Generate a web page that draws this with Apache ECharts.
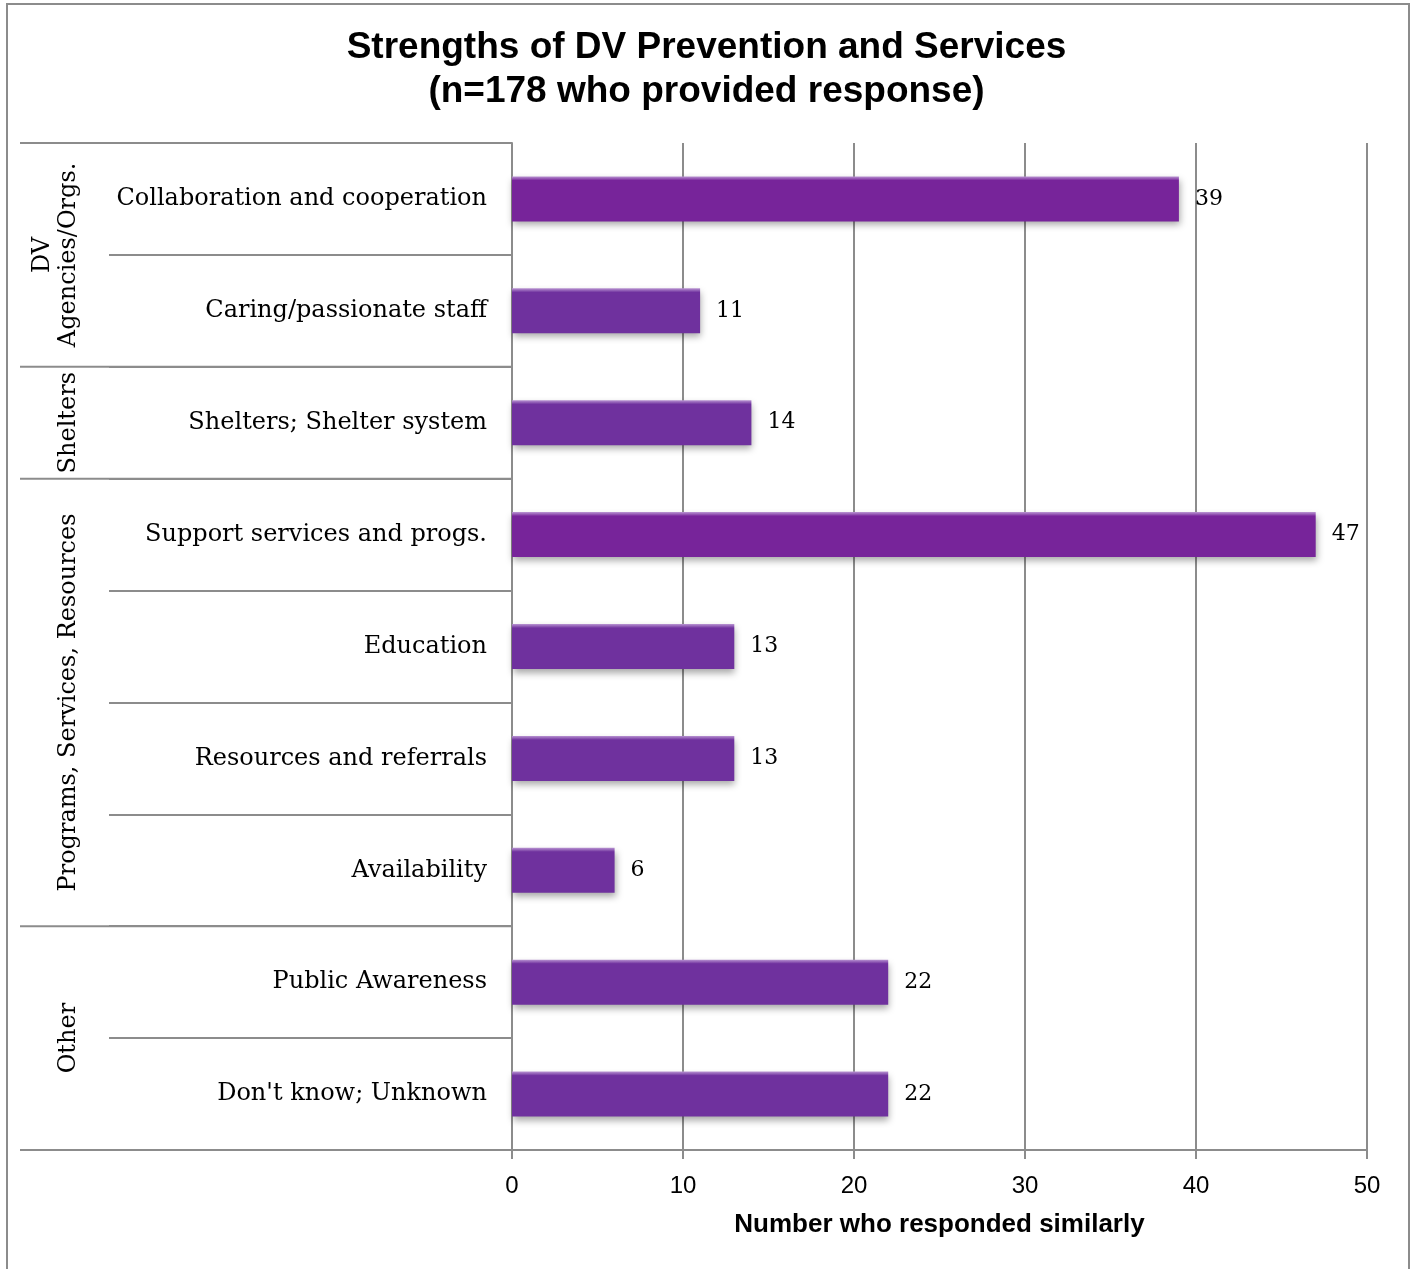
<!DOCTYPE html>
<html lang="en">
<head>
<meta charset="UTF-8">
<title>Strengths of DV Prevention and Services</title>
<script src="https://cdn.jsdelivr.net/npm/echarts@6/dist/echarts.min.js"></script>
<style>
    html, body { margin: 0; padding: 0; background: #fff; }
    #chart { width: 1413px; height: 1269px; }
</style>
</head>
<body>
<div id="chart"></div>
<script>
// data
var categories = [
    'Collaboration and cooperation',
    'Caring/passionate staff',
    'Shelters; Shelter system',
    'Support services and progs.',
    'Education',
    'Resources and referrals',
    'Availability',
    'Public Awareness',
    "Don't know; Unknown"
];
var counts = [39, 11, 14, 47, 13, 13, 6, 22, 22];
var groupNames = ['DV\nAgencies/Orgs.', 'Shelters', 'Programs, Services, Resources', 'Other'];
var groupSizes = [2, 1, 4, 2];
var xMin = 0, xMax = 50, xStep = 10;

var lineGray = '#8c8c8c';
var serif = "'DejaVu Serif', 'Liberation Serif', serif";
var sans = "'Liberation Sans', Arial, sans-serif";

function barFill(v) {
    var base = v >= 30 ? '#77249a' : '#6f319e';
    return new echarts.graphic.LinearGradient(0, 0, 0, 1, [
        {offset: 0, color: '#b994d2'},
        {offset: 0.09, color: base},
        {offset: 1, color: base}
    ]);
}

var myChart = echarts.init(document.getElementById('chart'));

var option = {
    backgroundColor: '#fff',
    animation: false,
    title: {
        text: 'Strengths of DV Prevention and Services\n(n=178 who provided response)',
        left: 'center',
        top: 21,
        textStyle: {
            fontFamily: sans,
            fontSize: 37,
            fontWeight: 'bold',
            color: '#000',
            lineHeight: 44
        }
    },
    grid: {
        left: 512,
        right: 46,
        top: 143,
        bottom: 119,
        containLabel: false
    },
    xAxis: {
        type: 'value',
        min: xMin,
        max: xMax,
        interval: xStep,
        name: 'Number who responded similarly',
        nameLocation: 'middle',
        nameGap: 62,
        nameTextStyle: {
            fontFamily: sans,
            fontSize: 26,
            fontWeight: 'bold',
            color: '#000'
        },
        axisLine: {show: true, lineStyle: {color: lineGray, width: 2}},
        axisTick: {show: true, length: 9, lineStyle: {color: lineGray, width: 2}},
        axisLabel: {
            margin: 24,
            fontFamily: sans,
            fontSize: 24,
            color: '#000'
        },
        splitLine: {show: true, lineStyle: {color: lineGray, width: 2}}
    },
    yAxis: {
        type: 'category',
        data: categories,
        inverse: true,
        axisLine: {show: true, lineStyle: {color: lineGray, width: 2}},
        axisTick: {show: true, length: 403, lineStyle: {color: lineGray, width: 2}},
        axisLabel: {
            margin: 25,
            fontFamily: serif,
            fontSize: 24,
            color: '#000'
        },
        splitLine: {show: false}
    },
    series: [{
        type: 'bar',
        barWidth: 45,
        data: counts.map(function (v) {
            return {
                value: v,
                itemStyle: {
                    color: barFill(v),
                    shadowColor: 'rgba(0,0,0,0.35)',
                    shadowBlur: 7,
                    shadowOffsetY: 4,
                    shadowOffsetX: 1
                }
            };
        }),
        label: {
            show: true,
            position: 'right',
            distance: 16,
            fontFamily: serif,
            fontSize: 22,
            color: '#000'
        }
    }]
};
myChart.setOption(option);

// group brackets on the left, placed from the category axis
function drawGroups() {
    var y0 = myChart.convertToPixel({yAxisIndex: 0}, 0);
    var y1 = myChart.convertToPixel({yAxisIndex: 0}, 1);
    var band = y1 - y0;
    var axisX = myChart.convertToPixel({xAxisIndex: 0}, xMin);
    var els = [];
    // outer frame (no bottom edge, as in the original)
    els.push({
        type: 'polyline',
        shape: {points: [[7, 1269], [7, 4], [1409, 4], [1409, 1269]]},
        style: {stroke: lineGray, lineWidth: 2, fill: null},
        silent: true
    });
    var start = 0;
    for (var g = 0; g <= groupSizes.length; g++) {
        var yb = y0 - band / 2 + start * band;
        els.push({
            type: 'line',
            shape: {x1: 20, y1: yb, x2: axisX, y2: yb},
            style: {stroke: lineGray, lineWidth: 2},
            silent: true
        });
        if (g < groupSizes.length) {
            var yc = yb + groupSizes[g] * band / 2;
            els.push({
                type: 'text',
                x: groupNames[g].indexOf('\n') >= 0 ? 56 : 69,
                y: yc,
                rotation: Math.PI / 2,
                style: {
                    text: groupNames[g],
                    font: '24px ' + serif,
                    fill: '#000',
                    align: 'center',
                    verticalAlign: 'middle',
                    lineHeight: 26
                },
                silent: true
            });
            start += groupSizes[g];
        }
    }
    myChart.setOption({graphic: {elements: els}});
}
drawGroups();

window.onresize = function () {
    myChart.resize();
    drawGroups();
};
</script>
</body>
</html>
